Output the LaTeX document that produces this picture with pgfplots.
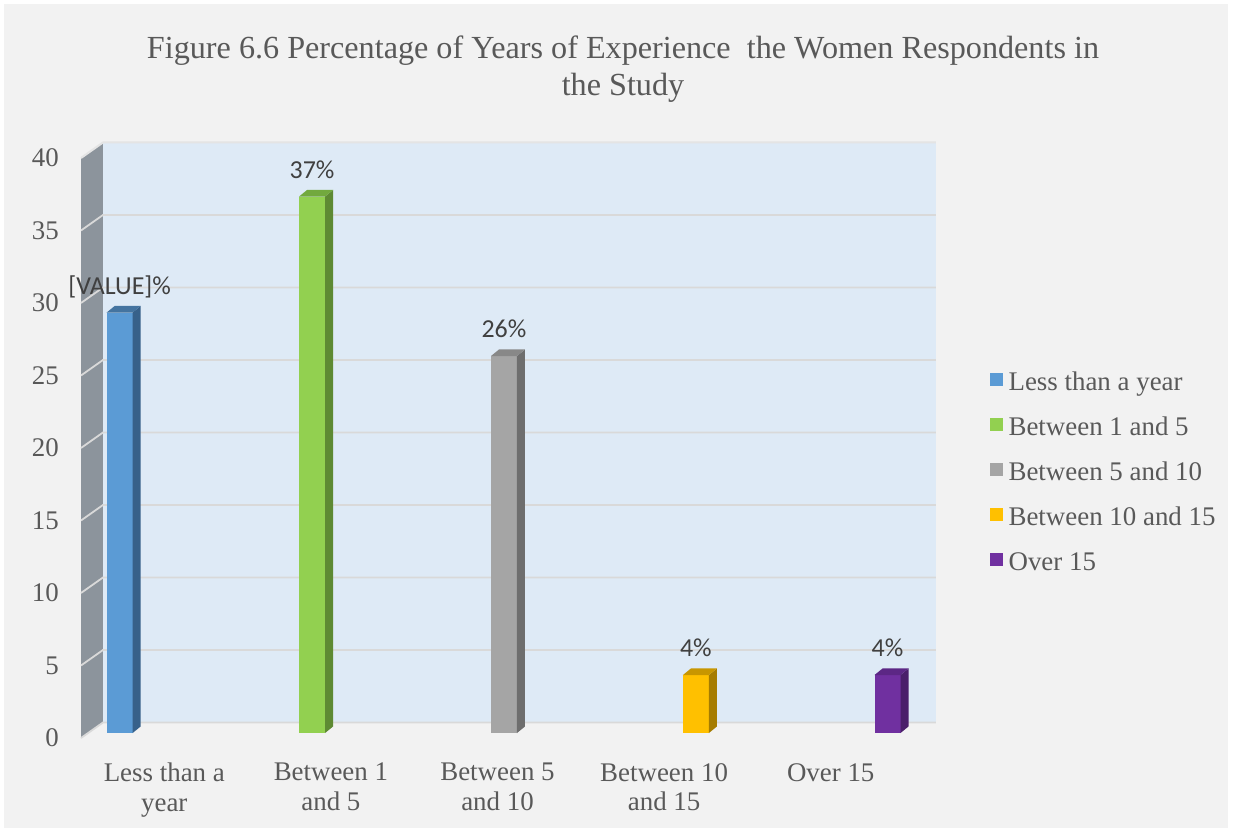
\documentclass[border=0pt]{standalone}
\usepackage{pgfplots}
\pgfplotsset{compat=1.18}
\usepackage{fontspec}
\setmainfont{Liberation Serif}
\newfontfamily\lblfont{Carlito}
\definecolor{bg}{HTML}{F2F2F2}
\definecolor{txt}{HTML}{595959}
\definecolor{lbl}{HTML}{404040}
\definecolor{backwall}{HTML}{DEEAF6}
\definecolor{leftwall}{HTML}{8C949C}
\definecolor{gridc}{HTML}{D9D9D9}
\definecolor{topedge}{HTML}{E4E4E4}
\definecolor{bluef}{HTML}{5B9BD5}\definecolor{blues}{HTML}{37618A}\definecolor{bluet}{HTML}{4474A0}
\definecolor{greenf}{HTML}{92D050}\definecolor{greens}{HTML}{5E8A33}\definecolor{greent}{HTML}{72A93E}
\definecolor{greyf}{HTML}{A5A5A5}\definecolor{greys}{HTML}{6E6E6E}\definecolor{greyt}{HTML}{888888}
\definecolor{yellf}{HTML}{FFC000}\definecolor{yells}{HTML}{A67C00}\definecolor{yellt}{HTML}{C89600}
\definecolor{purpf}{HTML}{7030A0}\definecolor{purps}{HTML}{4A1F6A}\definecolor{purpt}{HTML}{5C2785}
\begin{document}
\begin{tikzpicture}
\fill[white] (0,0) rectangle (1236bp,-834bp);
\fill[bg] (4bp,-4bp) rectangle (1228bp,-828bp);
\node[anchor=base, font=\fontsize{32.3}{38}\selectfont, text=txt, inner sep=0pt] at (623bp,-58bp) {Figure 6.6 Percentage of Years of Experience\ \ the Women Respondents in};
\node[anchor=base, font=\fontsize{32.3}{38}\selectfont, text=txt, inner sep=0pt] at (623bp,-95bp) {the Study};
\begin{axis}[
  at={(81bp,-738bp)}, anchor=south west,
  width=833bp, height=580bp, scale only axis,
  xmin=0, xmax=5, ymin=0, ymax=40,
  clip=false,
  axis line style={draw=none},
  tick style={draw=none},
  xtick={0.5,1.5,2.5,3.5,4.5},
  xticklabels={{Less than a\\year},{Between 1\\and 5},{Between 5\\and 10},{Between 10\\and 15},{Over 15}},
  xticklabel style={align=center, font=\fontsize{27}{30}\selectfont, text=txt, inner sep=0pt, anchor=north, yshift=-25bp},
  ytick={0,5,...,40},
  yticklabel style={font=\fontsize{27}{30}\selectfont, text=txt, inner sep=0pt, anchor=east, xshift=-22bp},
  /pgf/number format/assume math mode=true,
  legend cell align=left,
  legend style={at={(1.0905,0.4526)}, anchor=west, draw=none, fill=none,
    font=\fontsize{27}{30}\selectfont, text=txt, inner sep=0pt,
    row sep=19bp, column sep=6bp,
    nodes={inner sep=0pt, text height=18bp, text depth=8bp}},
  legend image code/.code={\fill[#1] (0bp,-5.5bp) rectangle (13bp,7.5bp);},
  every node near coord/.append style={font=\lblfont\fontsize{26}{30}\selectfont, text=lbl, anchor=base, inner sep=0pt, yshift=18.5bp},
  bar3d/.style={yshift=5bp},
]
% walls
\fill[backwall] (axis cs:0.132,1.07) rectangle (axis cs:5.132,41.07);
\fill[leftwall] (axis cs:0,0) -- (axis cs:0.132,1.07) -- (axis cs:0.132,41.07) -- (axis cs:0,40) -- cycle;
\draw[gridc, line width=1.8bp] (axis cs:0,0) -- (axis cs:0.132,1.07) -- (axis cs:5.132,1.07);
\draw[gridc, line width=1.8bp] (axis cs:0,5) -- (axis cs:0.132,6.07) -- (axis cs:5.132,6.07);
\draw[gridc, line width=1.8bp] (axis cs:0,10) -- (axis cs:0.132,11.07) -- (axis cs:5.132,11.07);
\draw[gridc, line width=1.8bp] (axis cs:0,15) -- (axis cs:0.132,16.07) -- (axis cs:5.132,16.07);
\draw[gridc, line width=1.8bp] (axis cs:0,20) -- (axis cs:0.132,21.07) -- (axis cs:5.132,21.07);
\draw[gridc, line width=1.8bp] (axis cs:0,25) -- (axis cs:0.132,26.07) -- (axis cs:5.132,26.07);
\draw[gridc, line width=1.8bp] (axis cs:0,30) -- (axis cs:0.132,31.07) -- (axis cs:5.132,31.07);
\draw[gridc, line width=1.8bp] (axis cs:0,35) -- (axis cs:0.132,36.07) -- (axis cs:5.132,36.07);
\draw[topedge, line width=2bp] (axis cs:0,40) -- (axis cs:0.132,41.07) -- (axis cs:5.132,41.07);
% bars: front faces
\addplot[ybar, bar3d, bar width=26bp, bar shift=0pt, fill=bluef, draw=none, nodes near coords={[VALUE]\%}] coordinates {(0.232,29)};
\addlegendentry{Less than a year}
\addplot[ybar, bar3d, bar width=26bp, bar shift=0pt, fill=greenf, draw=none, point meta=y, nodes near coords={\pgfmathprintnumber{\pgfplotspointmeta}\%}] coordinates {(1.387,37)};
\addlegendentry{Between 1 and 5}
\addplot[ybar, bar3d, bar width=26bp, bar shift=0pt, fill=greyf, draw=none, point meta=y, nodes near coords={\pgfmathprintnumber{\pgfplotspointmeta}\%}] coordinates {(2.539,26)};
\addlegendentry{Between 5 and 10}
\addplot[ybar, bar3d, bar width=26bp, bar shift=0pt, fill=yellf, draw=none, point meta=y, nodes near coords={\pgfmathprintnumber{\pgfplotspointmeta}\%}] coordinates {(3.691,4)};
\addlegendentry{Between 10 and 15}
\addplot[ybar, bar3d, bar width=26bp, bar shift=0pt, fill=purpf, draw=none, point meta=y, nodes near coords={\pgfmathprintnumber{\pgfplotspointmeta}\%}] coordinates {(4.841,4)};
\addlegendentry{Over 15}
% side faces
\addplot[bar3d, fill=blues, draw=none, forget plot] coordinates {(0.310,0) (0.358,0.45) (0.358,29.45) (0.310,29)};
\addplot[bar3d, fill=greens, draw=none, forget plot] coordinates {(1.465,0) (1.513,0.45) (1.513,37.45) (1.465,37)};
\addplot[bar3d, fill=greys, draw=none, forget plot] coordinates {(2.617,0) (2.665,0.45) (2.665,26.45) (2.617,26)};
\addplot[bar3d, fill=yells, draw=none, forget plot] coordinates {(3.769,0) (3.817,0.45) (3.817,4.45) (3.769,4)};
\addplot[bar3d, fill=purps, draw=none, forget plot] coordinates {(4.919,0) (4.967,0.45) (4.967,4.45) (4.919,4)};
% top faces
\addplot[bar3d, fill=bluet, draw=none, forget plot] coordinates {(0.154,29) (0.202,29.45) (0.358,29.45) (0.310,29)};
\addplot[bar3d, fill=greent, draw=none, forget plot] coordinates {(1.309,37) (1.357,37.45) (1.513,37.45) (1.465,37)};
\addplot[bar3d, fill=greyt, draw=none, forget plot] coordinates {(2.461,26) (2.509,26.45) (2.665,26.45) (2.617,26)};
\addplot[bar3d, fill=yellt, draw=none, forget plot] coordinates {(3.613,4) (3.661,4.45) (3.817,4.45) (3.769,4)};
\addplot[bar3d, fill=purpt, draw=none, forget plot] coordinates {(4.763,4) (4.811,4.45) (4.967,4.45) (4.919,4)};
\end{axis}
\end{tikzpicture}
\end{document}
